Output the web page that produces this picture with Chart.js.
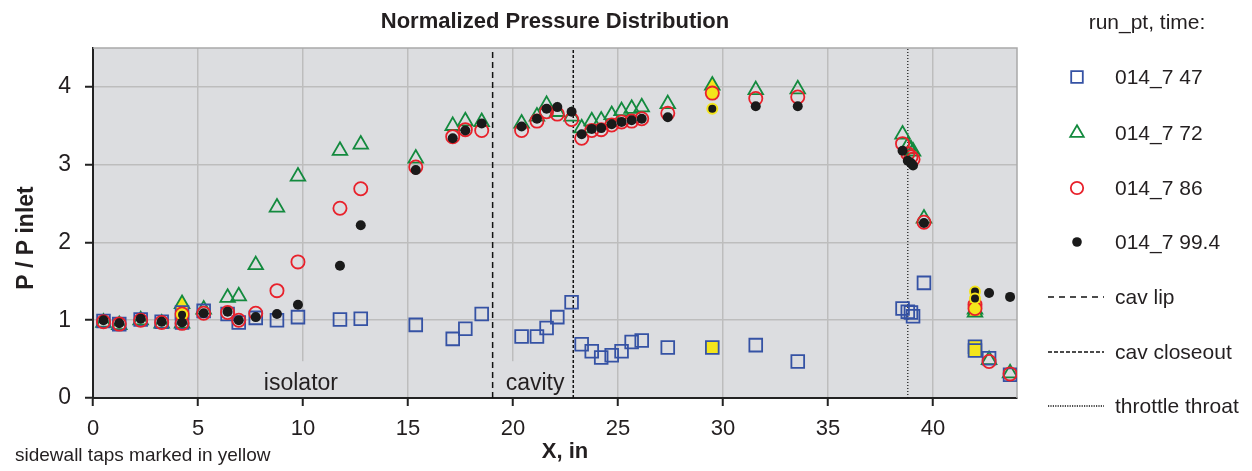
<!DOCTYPE html>
<html><head><meta charset="utf-8">
<script src="https://cdn.jsdelivr.net/npm/chart.js@4.4.1/dist/chart.umd.min.js"></script>
<style>html,body{margin:0;padding:0;background:#fff;}canvas{display:block;}</style>
</head><body>
<canvas id="c" width="1252" height="471"></canvas>
<script>
// ---- data ----
const tapX  = [0.5,1.25,2.27,3.27,4.24,5.27,6.41,6.94,7.75,8.76,9.76,11.76,12.75,15.37,17.13,17.73,18.51,20.41,21.14,21.6,22.11,22.79,23.27,23.75,24.2,24.7,25.17,25.65,26.13,27.37,31.56,33.56,38.55,38.8,38.95,39.05,39.57,42.67,43.67];
const p47   = [0.99,0.95,1.01,0.98,0.97,1.12,1.08,0.97,1.03,1.00,1.04,1.01,1.02,0.94,0.76,0.89,1.08,0.79,0.79,0.90,1.04,1.23,0.69,0.60,0.52,0.55,0.60,0.72,0.74,0.65,0.68,0.47,1.15,1.11,1.10,1.05,1.48,0.51,0.30];
const p72   = [0.97,0.94,1.00,0.96,0.96,1.14,1.29,1.31,1.71,2.45,2.85,3.18,3.26,3.08,3.50,3.56,3.55,3.53,3.62,3.77,3.68,3.62,3.47,3.56,3.57,3.64,3.69,3.72,3.74,3.78,3.96,3.97,3.39,3.24,3.20,3.17,2.31,0.49,0.32];
const p86   = [0.98,0.95,1.00,0.97,0.96,1.09,1.10,1.00,1.09,1.38,1.75,2.44,2.69,2.97,3.36,3.45,3.44,3.44,3.56,3.68,3.65,3.58,3.34,3.44,3.45,3.51,3.55,3.56,3.59,3.66,3.85,3.87,3.27,3.14,3.10,3.07,2.26,0.47,0.31];
const p994  = [1.00,0.96,1.02,0.98,0.97,1.09,1.11,1.00,1.04,1.08,1.20,1.70,2.22,2.93,3.34,3.44,3.53,3.49,3.59,3.72,3.74,3.68,3.39,3.46,3.47,3.52,3.55,3.57,3.59,3.61,3.75,3.75,3.18,3.05,3.02,2.99,2.25,1.35,1.30];
// sidewall taps (marked in yellow)
const sideX    = [4.24,29.49,42.0,42.0];
const side47   = [1.10,0.65,0.66,0.61];
const side72   = [1.21,4.02,1.14,1.10];
const side86   = [1.08,3.92,1.20,1.15];
const side994  = [1.07,3.72,1.37,1.28];
const seriesNames = ['014_7 47','014_7 72','014_7 86','014_7 99.4'];
const markerNames = ['cav lip','cav closeout','throttle throat'];
const markerX = [19.03,22.87,38.8];
const xTicks = [0,5,10,15,20,25,30,35,40];
const yTicks = [0,1,2,3,4];
const regionNames = ['isolator','cavity'];
const regionX = [9.9,21.05];

// ---- styles ----
const FONT = "'Liberation Sans', Arial, sans-serif";
const TXT = '#231f20';
const YEL = '#f4e51c';
const styles = [
  {color:'#3552a4', style:'rect', r:9, bw:1.8, order:2},
  {color:'#138a3e', style:'triangle', r:8.4, bw:1.8, order:3},
  {color:'#e8212b', style:'circle', r:6.6, bw:1.8, order:1},
  {color:'#1a1a1a', style:'circle', r:5, bw:0, order:0}
];
const legR = [8.2, 7.8, 6.2, 4.8];
const mainVals = [p47,p72,p86,p994];
const sideVals = [side47,side72,side86,side994];
const dashes = [[6,4],[3,2],[1,2]];
const legDashes = [[6,5],[4,2],[1.2,1.2]];

const pts = (xs, ys) => xs.map((x,i)=>({x:x, y:ys[i]}));
const datasets = [];
styles.forEach((s,i)=>{
  datasets.push({
    label: seriesNames[i], data: pts(tapX, mainVals[i]), order: s.order,
    pointStyle: s.style, pointRadius: s.r, pointBorderWidth: s.bw,
    pointBorderColor: s.color,
    pointBackgroundColor: i===3 ? s.color : 'rgba(0,0,0,0)', showLine:false
  });
  datasets.push({
    label: seriesNames[i]+' sidewall', data: pts(sideX, sideVals[i]), order: s.order,
    pointStyle: s.style, pointRadius: s.r, pointBorderWidth: i===3 ? 2 : s.bw,
    pointBorderColor: i===3 ? YEL : s.color,
    pointBackgroundColor: i===3 ? s.color : YEL, showLine:false
  });
});
markerX.forEach((x,i)=>{
  datasets.push({
    type:'line', label: markerNames[i], data:[{x:x,y:0},{x:x,y:4.5}], order: 10,
    borderColor:'#111', borderWidth: i===2 ? 1.2 : 1.5, borderDash: dashes[i],
    pointRadius:0, showLine:true, fill:false
  });
});

const deco = {
  id:'deco',
  beforeDraw(chart){
    const {ctx, chartArea:a} = chart;
    ctx.save();
    ctx.fillStyle = '#dcdde0';
    ctx.fillRect(a.left, a.top, a.right-a.left, a.bottom-a.top);
    ctx.restore();
  },
  beforeDatasetsDraw(chart){
    const {ctx, chartArea:a, scales} = chart;
    ctx.save();
    ctx.strokeStyle = '#a9a9a9'; ctx.lineWidth = 1.5;
    ctx.beginPath();
    ctx.moveTo(a.left, a.top); ctx.lineTo(a.right, a.top); ctx.lineTo(a.right, a.bottom);
    ctx.stroke();
    ctx.font = '23px ' + FONT;
    ctx.textAlign = 'center'; ctx.textBaseline = 'middle';
    regionNames.forEach((t,i)=>{
      const cx = scales.x.getPixelForValue(regionX[i]);
      const cy = scales.y.getPixelForValue(0.19);
      const w = ctx.measureText(t).width + 8;
      ctx.fillStyle = '#dcdde0';
      ctx.fillRect(cx - w/2, cy - 22, w, a.bottom - (cy - 22) - 1);
      ctx.fillStyle = TXT;
      ctx.fillText(t, cx, cy);
    });
    ctx.restore();
  },
  afterDraw(chart){
    const {ctx, chartArea:a} = chart;
    ctx.save();
    ctx.fillStyle = TXT;
    ctx.textAlign = 'center'; ctx.textBaseline = 'middle';
    ctx.font = 'bold 22px ' + FONT;
    ctx.fillText('Normalized Pressure Distribution', (a.left+a.right)/2, 22);
    ctx.font = 'bold 22px ' + FONT;
    ctx.fillText('X, in', 565, 452);
    ctx.save();
    ctx.translate(27, 238); ctx.rotate(-Math.PI/2);
    ctx.font = 'bold 23px ' + FONT;
    ctx.fillText('P / P inlet', 0, 0);
    ctx.restore();
    ctx.textAlign = 'left';
    ctx.font = '19px ' + FONT;
    ctx.fillText('sidewall taps marked in yellow', 15, 456);
    // legend
    ctx.textAlign = 'center';
    ctx.font = '21px ' + FONT;
    ctx.fillText('run_pt, time:', 1147, 23);
    ctx.textAlign = 'left';
    const rowY = [77,133,188,242,297,352,406];
    styles.forEach((s,i)=>{
      ctx.save();
      ctx.fillStyle = i===3 ? s.color : 'rgba(0,0,0,0)';
      ctx.strokeStyle = s.color; ctx.lineWidth = s.bw;
      Chart.helpers.drawPoint(ctx, {pointStyle:s.style, radius:legR[i], rotation:0, borderWidth:s.bw}, 1077, rowY[i]);
      ctx.restore();
      ctx.fillStyle = TXT;
      ctx.fillText(seriesNames[i], 1115, rowY[i]+1);
    });
    markerNames.forEach((t,i)=>{
      const y = rowY[4+i];
      ctx.save();
      ctx.strokeStyle = '#111'; ctx.lineWidth = i===2 ? 1.4 : 1.5;
      ctx.setLineDash(legDashes[i]);
      ctx.beginPath(); ctx.moveTo(1048, y); ctx.lineTo(1104, y); ctx.stroke();
      ctx.restore();
      ctx.fillStyle = TXT;
      ctx.fillText(t, 1115, y+1);
    });
    ctx.restore();
  }
};

new Chart(document.getElementById('c'), {
  type:'scatter',
  data:{datasets},
  options:{
    responsive:false, animation:false, devicePixelRatio:1,
    layout:{padding:{left:0,right:235,top:48,bottom:0}},
    plugins:{legend:{display:false}, tooltip:{enabled:false}, title:{display:false}},
    scales:{
      x:{type:'linear', min:0, max:44,
        afterBuildTicks:s=>{s.ticks = xTicks.map(v=>({value:v}));},
        afterFit:s=>{s.height = 73;},
        grid:{color:'#bdbdbd', lineWidth:1.5, tickColor:'#222', tickLength:8, tickWidth:2},
        border:{color:'#222', width:2},
        ticks:{font:{family:FONT, size:22}, color:TXT, padding:10, maxRotation:0, autoSkip:false}
      },
      y:{type:'linear', min:0, max:4.5,
        afterBuildTicks:s=>{s.ticks = yTicks.map(v=>({value:v}));},
        afterFit:s=>{s.width = 93;},
        grid:{color:'#bdbdbd', lineWidth:1.5, tickColor:'#222', tickLength:8, tickWidth:2},
        border:{color:'#222', width:2},
        ticks:{font:{family:FONT, size:23}, color:TXT, padding:14}
      }
    }
  },
  plugins:[deco]
});
</script>
</body></html>
